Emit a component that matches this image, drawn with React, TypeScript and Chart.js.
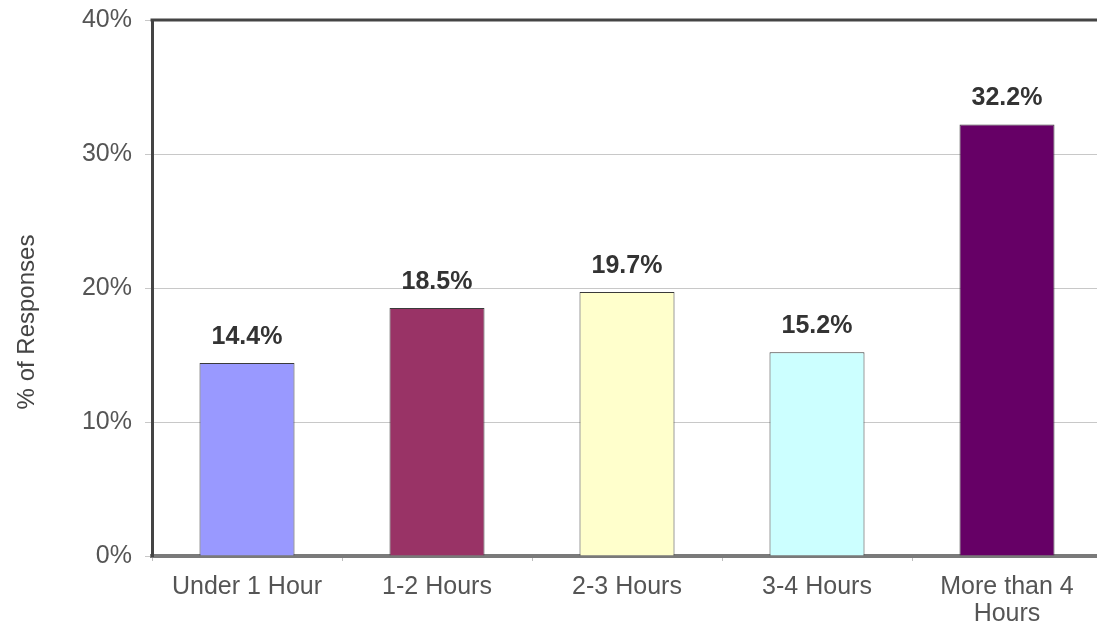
import React, { useEffect, useRef } from "react";
import { Chart, registerables } from "chart.js";

Chart.register(...registerables);

const categories: (string | string[])[] = [
  "Under 1 Hour",
  "1-2 Hours",
  "2-3 Hours",
  "3-4 Hours",
  ["More than 4", "Hours"],
];
const values: number[] = [14.4, 18.5, 19.7, 15.2, 32.2];
const barColors: string[] = ["#9999FF", "#993366", "#FFFFCC", "#CCFFFF", "#660066"];
const yTicks: number[] = [0, 10, 20, 30, 40];
const yTitle = "% of Responses";

const FONT = "'Liberation Sans', Arial, sans-serif";

const extrasPlugin = {
  id: "extras",
  afterDatasetsDraw(chart: any) {
    const ctx = chart.ctx;
    const meta = chart.getDatasetMeta(0);
    ctx.save();
    ctx.font = `bold 25px ${FONT}`;
    ctx.fillStyle = "#333333";
    ctx.textAlign = "center";
    ctx.textBaseline = "middle";
    meta.data.forEach((bar: any, i: number) => {
      ctx.fillText(values[i].toFixed(1) + "%", bar.x, bar.y - 26);
    });
    ctx.restore();
  },
  afterDraw(chart: any) {
    const ctx = chart.ctx;
    const a = chart.chartArea;
    ctx.save();
    ctx.strokeStyle = "#444444";
    ctx.lineWidth = 3;
    ctx.beginPath();
    ctx.moveTo(a.left - 1.5, a.top);
    ctx.lineTo(a.right, a.top);
    ctx.stroke();
    ctx.translate(27, 322);
    ctx.rotate(-Math.PI / 2);
    ctx.font = `24px ${FONT}`;
    ctx.fillStyle = "#444444";
    ctx.textAlign = "center";
    ctx.textBaseline = "middle";
    ctx.fillText(yTitle, 0, 0);
    ctx.restore();
  },
};

export default function App() {
  const ref = useRef<HTMLCanvasElement>(null);
  useEffect(() => {
    if (!ref.current) return;
    const chart = new Chart(ref.current, {
      type: "bar",
      data: {
        labels: categories,
        datasets: [
          {
            data: values,
            backgroundColor: barColors,
            borderColor: "#3a3a3a",
            borderWidth: 1,
            barPercentage: 0.5,
            categoryPercentage: 1,
          },
        ],
      },
      options: {
        responsive: false,
        animation: false,
        layout: { padding: { left: 0, top: 20, right: 8, bottom: 0 } },
        plugins: {
          legend: { display: false },
          tooltip: { enabled: false },
        },
        scales: {
          x: {
            grid: {
              display: true,
              drawOnChartArea: false,
              drawTicks: true,
              tickLength: 5,
              color: "#bdbdbd",
              offset: true,
            },
            border: { color: "#7a7a7a", width: 4 },
            ticks: {
              color: "#555555",
              font: { family: FONT, size: 25, lineHeight: 1.08 },
              padding: 13,
              maxRotation: 0,
              autoSkip: false,
            },
            afterFit: (s: any) => {
              s.height = 75;
              s.paddingLeft = 0;
              s.paddingRight = 0;
            },
          },
          y: {
            min: 0,
            max: 40,
            afterBuildTicks: (s: any) => {
              s.ticks = yTicks.map((v) => ({ value: v }));
            },
            grid: {
              color: "#c8c8c8",
              lineWidth: 1,
              drawTicks: true,
              tickLength: 7,
            },
            border: { color: "#444444", width: 3 },
            ticks: {
              color: "#555555",
              font: { family: FONT, size: 25 },
              padding: 13,
              callback: (v: any) => v + "%",
            },
            afterFit: (s: any) => {
              s.width = 152;
              s.paddingTop = 0;
              s.paddingBottom = 0;
            },
          },
        },
      },
      plugins: [extrasPlugin],
    });
    return () => chart.destroy();
  }, []);
  return (
    <div
      style={{
        position: "fixed",
        left: 0,
        top: 0,
        width: 1097,
        height: 631,
        overflow: "hidden",
        background: "#ffffff",
      }}
    >
      <canvas ref={ref} width={1110} height={631} style={{ display: "block" }} />
    </div>
  );
}
